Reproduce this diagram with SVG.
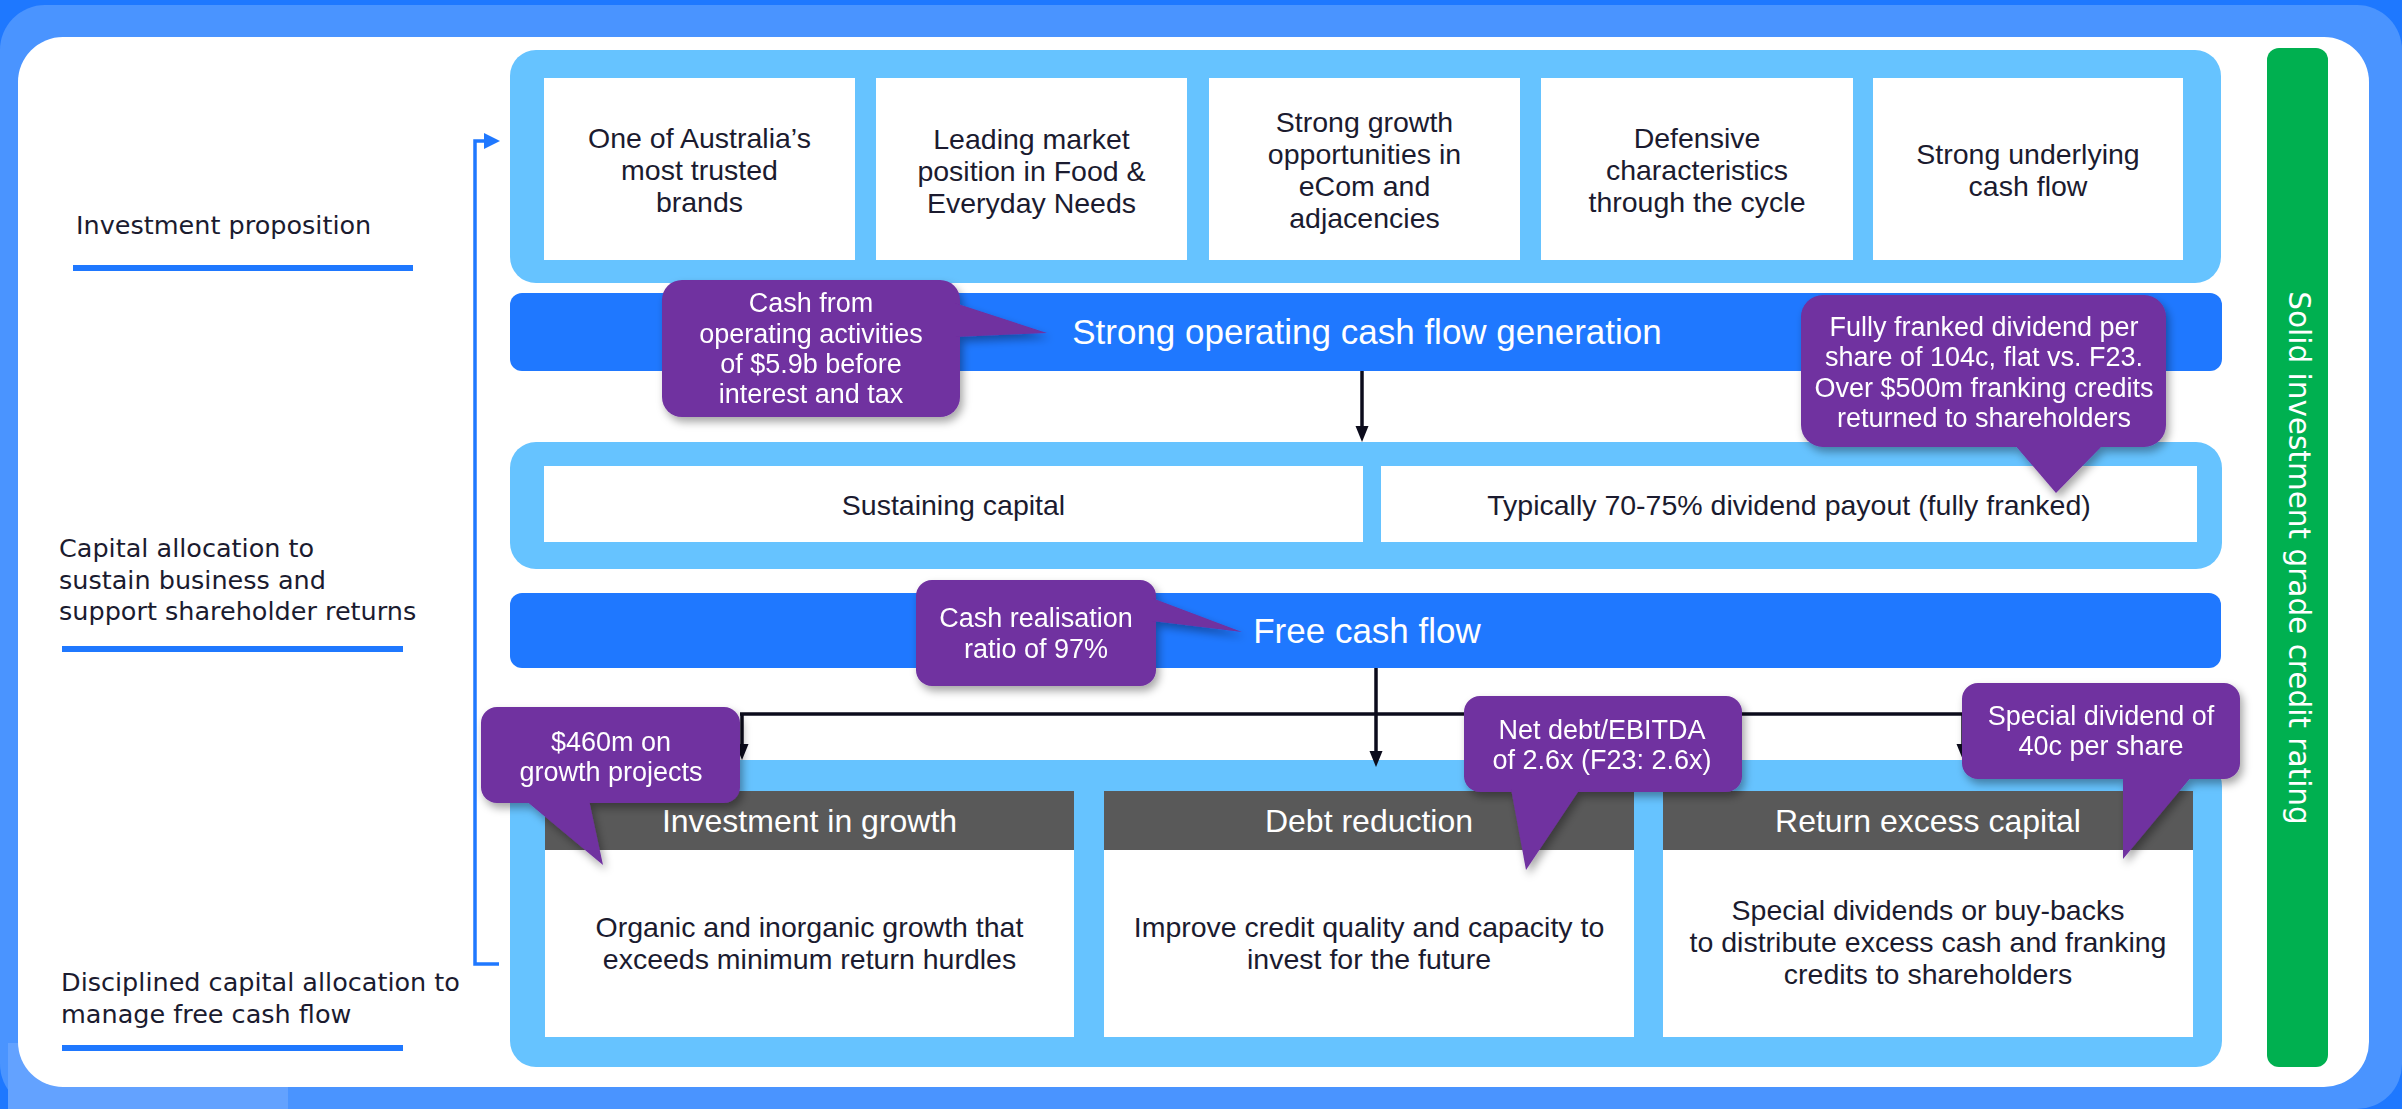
<svg xmlns="http://www.w3.org/2000/svg" width="2402" height="1109" viewBox="0 0 2402 1109">
<defs>
<style>
.lbl{font-family:"DejaVu Sans",Verdana,sans-serif;font-size:25.5px;fill:#1b1b2f}
.box{font-family:"Liberation Sans",Arial,sans-serif;font-size:28.5px;fill:#1b1b2f;text-anchor:middle}
.call{font-family:"Liberation Sans",Arial,sans-serif;font-size:27px;fill:#ffffff;text-anchor:middle}
.bar{font-family:"Liberation Sans",Arial,sans-serif;font-size:35px;fill:#ffffff;text-anchor:middle}
.hdr{font-family:"Liberation Sans",Arial,sans-serif;font-size:32px;fill:#ffffff;text-anchor:middle}
.panel{fill:#66c3ff}
.wbox{fill:#ffffff}
.bluebar{fill:#1f78ff}
.grey{fill:#595959}
.bubble{fill:#7030a0}
.uline{fill:#1f78ff}
.blk{stroke:#0c0c1c;stroke-width:3.5;fill:none}
.blkhead{fill:#0c0c1c}
</style>
<filter id="sh" x="-20%" y="-20%" width="150%" height="160%">
<feDropShadow dx="3" dy="5" stdDeviation="4" flood-color="#000000" flood-opacity="0.35"/>
</filter>
</defs>

<!-- frame -->
<rect x="0" y="0" width="2402" height="1109" fill="#1e78ff"/>
<rect x="0" y="5" width="2402" height="1104" rx="45" fill="#4a94ff"/>
<rect x="8" y="1043" width="280" height="66" fill="#63a2ff"/>
<rect x="18" y="37" width="2351" height="1050" rx="45" fill="#ffffff"/>

<!-- left labels -->
<g id="label-investment">
<text class="lbl" x="76" y="234">Investment proposition</text>
<rect class="uline" x="73" y="265" width="340" height="6"/>
</g>
<g id="label-capital">
<text class="lbl" x="59" y="557">Capital allocation to</text>
<text class="lbl" x="59" y="589">sustain business and</text>
<text class="lbl" x="59" y="620">support shareholder returns</text>
<rect class="uline" x="62" y="646" width="341" height="6"/>
</g>
<g id="label-disciplined">
<text class="lbl" x="61" y="991">Disciplined capital allocation to</text>
<text class="lbl" x="61" y="1023">manage free cash flow</text>
<rect class="uline" x="62" y="1045" width="341" height="6"/>
</g>

<!-- investment proposition panel -->
<g id="panel-proposition">
<rect class="panel" x="510" y="50" width="1711" height="233" rx="26"/>
<g id="box-trusted">
<rect class="wbox" x="544" y="78" width="311" height="182"/>
<text class="box" x="699.5" y="148">One of Australia’s</text>
<text class="box" x="699.5" y="180">most trusted</text>
<text class="box" x="699.5" y="212">brands</text>
</g>
<g id="box-leading">
<rect class="wbox" x="876" y="78" width="311" height="182"/>
<text class="box" x="1031.5" y="149">Leading market</text>
<text class="box" x="1031.5" y="181">position in Food &amp;</text>
<text class="box" x="1031.5" y="213">Everyday Needs</text>
</g>
<g id="box-growth">
<rect class="wbox" x="1209" y="78" width="311" height="182"/>
<text class="box" x="1364.5" y="132">Strong growth</text>
<text class="box" x="1364.5" y="164">opportunities in</text>
<text class="box" x="1364.5" y="196">eCom and</text>
<text class="box" x="1364.5" y="228">adjacencies</text>
</g>
<g id="box-defensive">
<rect class="wbox" x="1541" y="78" width="312" height="182"/>
<text class="box" x="1697" y="148">Defensive</text>
<text class="box" x="1697" y="180">characteristics</text>
<text class="box" x="1697" y="212">through the cycle</text>
</g>
<g id="box-cashflow">
<rect class="wbox" x="1873" y="78" width="310" height="182"/>
<text class="box" x="2028" y="164">Strong underlying</text>
<text class="box" x="2028" y="196">cash flow</text>
</g>
</g>

<g id="bar-operating">
<rect class="bluebar" x="510" y="293" width="1712" height="78" rx="12"/>
<text class="bar" x="1367" y="344">Strong operating cash flow generation</text>
</g>

<g id="panel-sustain">
<rect class="panel" x="510" y="442" width="1712" height="127" rx="26"/>
<g id="box-sustaining">
<rect class="wbox" x="544" y="466" width="819" height="76"/>
<text class="box" x="953.5" y="515">Sustaining capital</text>
</g>
<g id="box-dividend">
<rect class="wbox" x="1381" y="466" width="816" height="76"/>
<text class="box" x="1789" y="515">Typically 70-75% dividend payout (fully franked)</text>
</g>
</g>

<g id="bar-fcf">
<rect class="bluebar" x="510" y="593" width="1711" height="75" rx="12"/>
<text class="bar" x="1367" y="643" font-size="34.5">Free cash flow</text>
</g>

<g id="panel-allocation">
<rect class="panel" x="510" y="760" width="1712" height="307" rx="26"/>
<g id="col-growth">
<rect class="wbox" x="545" y="791" width="529" height="246"/>
<rect class="grey" x="545" y="791" width="529" height="59"/>
<text class="hdr" x="809.5" y="832">Investment in growth</text>
<text class="box" x="809.5" y="937">Organic and inorganic growth that</text>
<text class="box" x="809.5" y="969">exceeds minimum return hurdles</text>
</g>
<g id="col-debt">
<rect class="wbox" x="1104" y="791" width="530" height="246"/>
<rect class="grey" x="1104" y="791" width="530" height="59"/>
<text class="hdr" x="1369" y="832">Debt reduction</text>
<text class="box" x="1369" y="937">Improve credit quality and capacity to</text>
<text class="box" x="1369" y="969">invest for the future</text>
</g>
<g id="col-return">
<rect class="wbox" x="1663" y="791" width="530" height="246"/>
<rect class="grey" x="1663" y="791" width="530" height="59"/>
<text class="hdr" x="1928" y="832">Return excess capital</text>
<text class="box" x="1928" y="920">Special dividends or buy-backs</text>
<text class="box" x="1928" y="952">to distribute excess cash and franking</text>
<text class="box" x="1928" y="984">credits to shareholders</text>
</g>
</g>

<g id="credit-rating">
<rect x="2267" y="48" width="61" height="1019" rx="12" fill="#00b050"/>
<text transform="translate(2289,558) rotate(90)" text-anchor="middle" font-family="DejaVu Sans, Verdana, sans-serif" font-size="29.5" fill="#ffffff">Solid investment grade credit rating</text>
</g>

<!-- connectors -->
<g id="connectors">
<polyline points="499,964 475,964 475,141 486,141" fill="none" stroke="#1f78ff" stroke-width="3.5"/>
<polygon points="484,133 500,141 484,149" fill="#1f78ff"/>
<line class="blk" x1="1362" y1="371" x2="1362" y2="428"/>
<polygon class="blkhead" points="1355.5,426 1368.5,426 1362,442"/>
<line class="blk" x1="1376" y1="668" x2="1376" y2="753"/>
<polygon class="blkhead" points="1369.5,751 1382.5,751 1376,767"/>
<line class="blk" x1="740" y1="714" x2="1965" y2="714"/>
<line class="blk" x1="742" y1="714" x2="742" y2="746"/>
<polygon class="blkhead" points="735.5,744 748.5,744 742,760"/>
<line class="blk" x1="1963" y1="714" x2="1963" y2="746"/>
<polygon class="blkhead" points="1956.5,744 1969.5,744 1963,760"/>
</g>

<!-- callouts -->
<g id="callout-opcash" filter="url(#sh)">
<rect class="bubble" x="662" y="280" width="298" height="137" rx="20"/>
<polygon class="bubble" points="955,303 1047,333 955,337"/>
<text class="call" x="811" y="312">Cash from</text>
<text class="call" x="811" y="343">operating activities</text>
<text class="call" x="811" y="373">of $5.9b before</text>
<text class="call" x="811" y="403">interest and tax</text>
</g>
<g id="callout-dividend" filter="url(#sh)">
<rect class="bubble" x="1801" y="295" width="365" height="152" rx="22"/>
<polygon class="bubble" points="2014,444 2056,493 2104,444"/>
<text class="call" x="1984" y="336">Fully franked dividend per</text>
<text class="call" x="1984" y="366">share of 104c, flat vs. F23.</text>
<text class="call" x="1984" y="397">Over $500m franking credits</text>
<text class="call" x="1984" y="427">returned to shareholders</text>
</g>
<g id="callout-realisation" filter="url(#sh)">
<rect class="bubble" x="916" y="580" width="240" height="106" rx="16"/>
<polygon class="bubble" points="1152,598 1242,632 1152,621"/>
<text class="call" x="1036" y="627">Cash realisation</text>
<text class="call" x="1036" y="658">ratio of 97%</text>
</g>
<g id="callout-growth" filter="url(#sh)">
<rect class="bubble" x="481" y="707" width="259" height="96" rx="16"/>
<polygon class="bubble" points="525,800 603,865 589,800"/>
<text class="call" x="611" y="751">$460m on</text>
<text class="call" x="611" y="781">growth projects</text>
</g>
<g id="callout-debt" filter="url(#sh)">
<rect class="bubble" x="1464" y="696" width="278" height="96" rx="16"/>
<polygon class="bubble" points="1511,789 1526,870 1580,789"/>
<text class="call" x="1602" y="739">Net debt/EBITDA</text>
<text class="call" x="1602" y="769">of 2.6x (F23: 2.6x)</text>
</g>
<g id="callout-special" filter="url(#sh)">
<rect class="bubble" x="1962" y="683" width="278" height="96" rx="16"/>
<polygon class="bubble" points="2123,776 2123,859 2192,776"/>
<text class="call" x="2101" y="725">Special dividend of</text>
<text class="call" x="2101" y="755">40c per share</text>
</g>
</svg>
